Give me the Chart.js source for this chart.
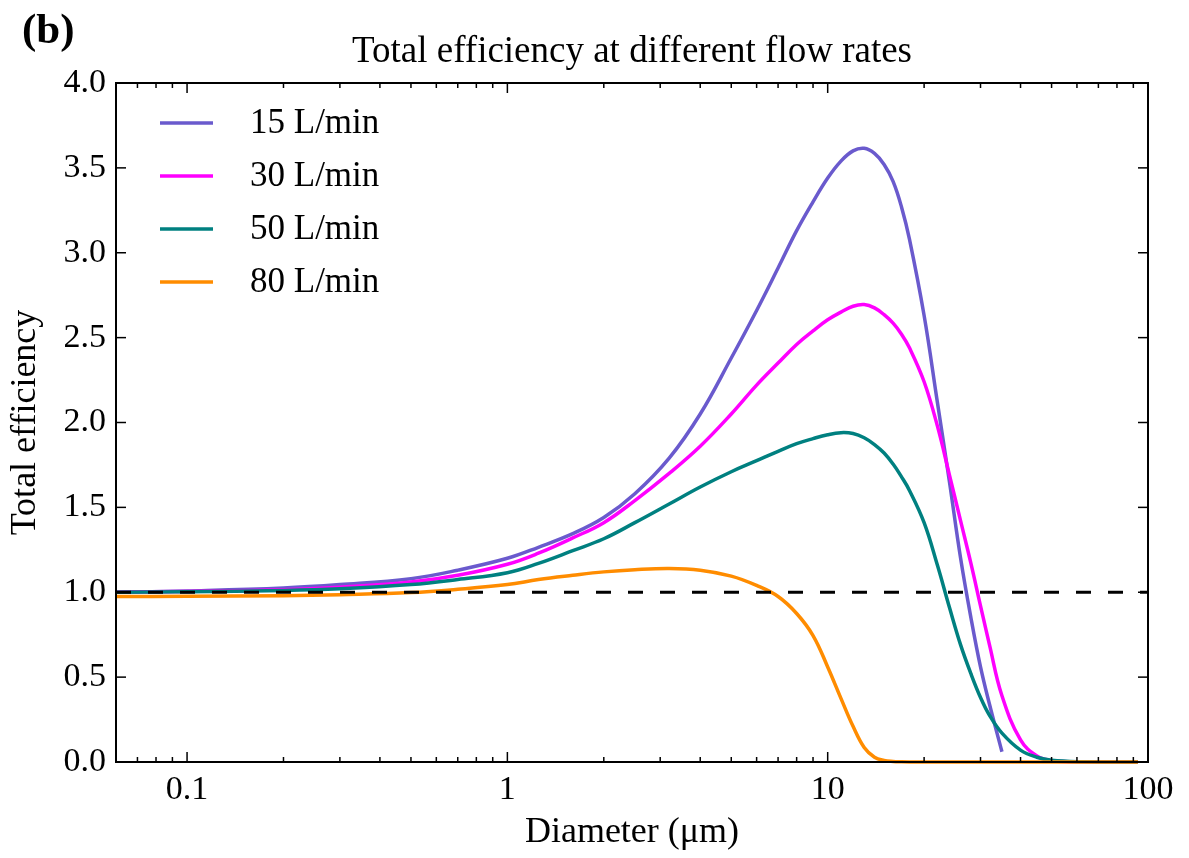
<!DOCTYPE html>
<html>
<head>
<meta charset="utf-8">
<title>Total efficiency at different flow rates</title>
<script src="https://cdn.jsdelivr.net/npm/chart.js@4"></script>
<style>
  body { margin: 0; background: #fff; }
  canvas { display: block; }
</style>
</head>
<body>
<canvas id="effChart" width="1189" height="858"></canvas>
<script>
// particle diameter (um) and total efficiency for each flow rate
const diameters = [0.06, 0.1, 0.2, 0.3, 0.5, 0.7, 1, 1.25, 1.6, 2, 2.5, 3.2, 4, 5, 6, 7, 8, 9, 10, 11,
  12, 13, 14, 15, 16, 17, 18, 20, 22, 24, 26, 28, 30, 32, 35, 40, 45, 50, 63, 80, 93];

const eff15 = [1.00, 1.008, 1.025, 1.045, 1.08, 1.13, 1.20, 1.265, 1.345, 1.44, 1.58, 1.79, 2.05, 2.38, 2.66, 2.91, 3.13, 3.30, 3.44, 3.54,
  3.60, 3.615, 3.585, 3.52, 3.42, 3.27, 3.08, 2.63, 2.12, 1.65, 1.20, 0.85, 0.56, 0.34, 0.06, null, null, null, null, null, null];

const eff30 = [1.00, 1.005, 1.015, 1.03, 1.06, 1.10, 1.165, 1.23, 1.32, 1.41, 1.54, 1.70, 1.86, 2.05, 2.22, 2.35, 2.46, 2.54, 2.605, 2.65,
  2.685, 2.695, 2.675, 2.635, 2.585, 2.52, 2.44, 2.24, 1.98, 1.69, 1.42, 1.17, 0.92, 0.69, 0.39, 0.13, 0.035, 0.008, 0.001, 0, 0];

const eff50 = [1.00, 1.003, 1.01, 1.02, 1.045, 1.075, 1.115, 1.17, 1.245, 1.315, 1.41, 1.52, 1.62, 1.71, 1.775, 1.83, 1.875, 1.905, 1.928, 1.94,
  1.935, 1.91, 1.87, 1.82, 1.755, 1.68, 1.60, 1.41, 1.16, 0.91, 0.69, 0.52, 0.38, 0.275, 0.17, 0.07, 0.028, 0.01, 0.001, 0, 0];

const eff80 = [0.975, 0.976, 0.98, 0.986, 0.998, 1.017, 1.045, 1.075, 1.10, 1.12, 1.133, 1.14, 1.13, 1.095, 1.04, 0.975, 0.875, 0.745, 0.56, 0.375,
  0.21, 0.085, 0.028, 0.009, 0.003, 0.001, 0, 0, 0, 0, 0, 0, 0, 0, 0, 0, 0, 0, 0, 0, 0];

const seriesLabels = ["15 L/min", "30 L/min", "50 L/min", "80 L/min"];
const seriesColors = ["#6a5acd", "#ff00ff", "#008080", "#ff8c00"];
const xTickValues = [0.1, 1, 10, 100];
const yTickStep = 0.5;
const referenceLevel = 1.0;

const SERIF = "'Liberation Serif', 'Times New Roman', serif";
const LINE_W = 3.5;

function toPoints(values) {
  const pts = [];
  values.forEach((v, i) => {
    if (v !== null) pts.push({ x: diameters[i], y: v });
  });
  return pts;
}

// inward ticks on all four sides plus the box, matplotlib-classic look
const frameTicks = {
  id: "frameTicks",
  afterDatasetsDraw(chart) {
    const { ctx, chartArea: a, scales: { x, y } } = chart;
    const seg = (x0, y0, x1, y1) => {
      ctx.beginPath();
      ctx.moveTo(x0, y0);
      ctx.lineTo(x1, y1);
      ctx.stroke();
    };
    ctx.save();
    ctx.strokeStyle = "#000";
    ctx.lineWidth = 1.5;
    for (let v = y.min; v <= y.max + 1e-9; v += yTickStep) {
      const py = y.getPixelForValue(v);
      seg(a.left, py, a.left + 10, py);
      seg(a.right, py, a.right - 10, py);
    }
    const lo = Math.floor(Math.log10(x.min));
    const hi = Math.ceil(Math.log10(x.max));
    for (let e = lo; e <= hi; e++) {
      for (let k = 1; k <= 9; k++) {
        const v = k * Math.pow(10, e);
        if (v < x.min || v > x.max * 1.0001) continue;
        const px = x.getPixelForValue(v);
        const len = k === 1 ? 10 : 5;
        seg(px, a.bottom, px, a.bottom - len);
        seg(px, a.top, px, a.top + len);
      }
    }
    ctx.lineWidth = 2;
    ctx.strokeRect(a.left, a.top, a.right - a.left, a.bottom - a.top);
    ctx.restore();
  }
};

// panel letter and title centred over the plot box
const headings = {
  id: "headings",
  afterDraw(chart) {
    const { ctx, chartArea: a } = chart;
    ctx.save();
    ctx.fillStyle = "#000";
    ctx.textBaseline = "alphabetic";
    ctx.textAlign = "left";
    ctx.font = "bold 43px " + SERIF;
    ctx.fillText("(b)", 22, 43);
    ctx.textAlign = "center";
    ctx.font = "37px " + SERIF;
    ctx.fillText("Total efficiency at different flow rates", (a.left + a.right) / 2, 62);
    ctx.restore();
  }
};

// legend inside the upper-left corner, no frame
const flowLegend = {
  id: "flowLegend",
  afterDraw(chart) {
    const { ctx, chartArea: a } = chart;
    ctx.save();
    ctx.font = "35px " + SERIF;
    ctx.textBaseline = "middle";
    ctx.textAlign = "left";
    seriesLabels.forEach((label, i) => {
      const ly = a.top + 40 + i * 53;
      ctx.strokeStyle = seriesColors[i];
      ctx.lineWidth = LINE_W;
      ctx.beginPath();
      ctx.moveTo(a.left + 44, ly);
      ctx.lineTo(a.left + 97, ly);
      ctx.stroke();
      ctx.fillStyle = "#000";
      ctx.fillText(label, a.left + 134, ly + 1);
    });
    ctx.restore();
  }
};

const seriesValues = [eff15, eff30, eff50, eff80];
const datasets = seriesValues.map((vals, i) => ({
  label: seriesLabels[i],
  data: toPoints(vals),
  borderColor: seriesColors[i],
  borderWidth: LINE_W,
  pointRadius: 0,
  tension: 0.4,
  clip: false,
  order: 5 - i
}));

datasets.push({
  label: "reference",
  data: [{ x: 0.06, y: referenceLevel }, { x: 100, y: referenceLevel }],
  borderColor: "#000",
  borderWidth: 3,
  borderDash: [15, 17],
  pointRadius: 0,
  order: 0
});

new Chart(document.getElementById("effChart"), {
  type: "line",
  data: { datasets },
  options: {
    responsive: false,
    animation: false,
    devicePixelRatio: 1,
    layout: { padding: { top: 83, right: 41, left: 0, bottom: 0 } },
    plugins: {
      legend: { display: false },
      tooltip: { enabled: false }
    },
    scales: {
      x: {
        type: "logarithmic",
        min: 0.06,
        max: 100,
        afterBuildTicks: (s) => { s.ticks = xTickValues.map((v) => ({ value: v })); },
        afterFit: (s) => { s.height = 96; },
        grid: { display: false, drawTicks: false },
        border: { display: false },
        ticks: {
          autoSkip: false,
          maxRotation: 0,
          padding: 8,
          color: "#000",
          font: { family: SERIF, size: 34 },
          callback: (v) => String(v)
        },
        title: {
          display: true,
          text: "Diameter (μm)",
          color: "#000",
          font: { family: SERIF, size: 36 },
          padding: { top: 0, bottom: 4 }
        }
      },
      y: {
        min: 0,
        max: 4,
        afterFit: (s) => { s.width = 116; },
        grid: { display: false, drawTicks: false },
        border: { display: false },
        ticks: {
          stepSize: yTickStep,
          padding: 10,
          color: "#000",
          font: { family: SERIF, size: 34 },
          callback: (v) => v.toFixed(1)
        },
        title: {
          display: true,
          text: "Total efficiency",
          color: "#000",
          font: { family: SERIF, size: 36 },
          padding: { top: 4, bottom: 0 }
        }
      }
    }
  },
  plugins: [frameTicks, headings, flowLegend]
});
</script>
</body>
</html>
